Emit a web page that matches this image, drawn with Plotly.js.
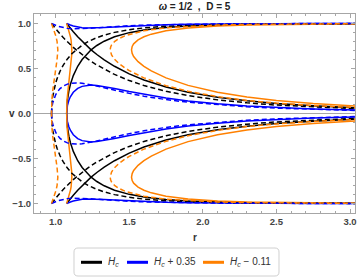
<!DOCTYPE html>
<html><head><meta charset="utf-8">
<script src="https://cdn.plot.ly/plotly-3.0.1.min.js"></script>
<style>html,body{margin:0;padding:0;background:#fff;}#chart{width:357px;height:278px;}</style>
</head><body><div id="chart"></div>
<script>
// ---- solid family (r grid and v branches) ----
const rS = [1.075, 1.076, 1.078, 1.08, 1.09, 1.10, 1.12, 1.15, 1.18, 1.21, 1.241, 1.28, 1.33, 1.40, 1.50, 1.60, 1.75, 1.90, 2.10, 2.30, 2.50, 2.75, 3.04];
const sBlackA = [1, .9978, .9934, .9891, .9676, .9468, .9070, .8513, .8000, .7530, .7071, .6553, .5962, .5244, .4401, .3726, .2947, .2366, .1804, .1404, .1112, .0849, .0638];
const sBlackB = [0, .0663, .1145, .1475, .2523, .3217, .4212, .5247, .6000, .6581, .7071, .7553, .8028, .8515, .8979, .9280, .9556, .9716, .9836, .9901, .9938, .9964, .9980];
const sBlueUp = [1, .9992, .9977, .9962, .9890, .9826, .9719, .9605, .9535, .9500, .9489, .9501, .9538, .9605, .9698, .9773, .9853, .9903, .9943, .9965, .9978, .9987, .9993];
const sBlueLow = [0, .0396, .0683, .0877, .1478, .1856, .2354, .2785, .3014, .3123, .3155, .3120, .3005, .2784, .2440, .2119, .1711, .1390, .1070, .0835, .0663, .0507, .0381];
const sBlackA_low = [-1, -.9978, -.9934, -.9891, -.9676, -.9468, -.9070, -.8513, -.8000, -.7530, -.7071, -.6553, -.5962, -.5244, -.4401, -.3726, -.2947, -.2366, -.1804, -.1404, -.1112, -.0849, -.0638];
const sBlackB_low = [0, -.0663, -.1145, -.1475, -.2523, -.3217, -.4212, -.5247, -.6000, -.6581, -.7071, -.7553, -.8028, -.8515, -.8979, -.9280, -.9556, -.9716, -.9836, -.9901, -.9938, -.9964, -.9980];
const sBlueUp_low = [-1, -.9992, -.9977, -.9962, -.9890, -.9826, -.9719, -.9605, -.9535, -.9500, -.9489, -.9501, -.9538, -.9605, -.9698, -.9773, -.9853, -.9903, -.9943, -.9965, -.9978, -.9987, -.9993];
const sBlueLow_low = [0, -.0396, -.0683, -.0877, -.1478, -.1856, -.2354, -.2785, -.3014, -.3123, -.3155, -.3120, -.3005, -.2784, -.2440, -.2119, -.1711, -.1390, -.1070, -.0835, -.0663, -.0507, -.0381];
const sOrLeftR = [1.075, 1.0773, 1.0788, 1.0825, 1.0863, 1.0938, 1.1013, 1.105, 1.1088, 1.1101, 1.1088, 1.105, 1.1013, 1.0938, 1.0863, 1.0825, 1.0788, 1.0773, 1.075];
const sOrLeftV = [1, .9889, .9814, .9623, .9425, .8996, .8480, .8148, .7646, .7071, .6445, .5798, .5300, .4368, .3342, .2719, .1918, .1484, 0];
const sOrLeftV_low = [-1, -.9889, -.9814, -.9623, -.9425, -.8996, -.8480, -.8148, -.7646, -.7071, -.6445, -.5798, -.5300, -.4368, -.3342, -.2719, -.1918, -.1484, 0];
const sOrCR = [3.04, 2.75, 2.50, 2.30, 2.10, 1.90, 1.75, 1.65, 1.60, 1.56, 1.53, 1.52, 1.5156, 1.52, 1.53, 1.56, 1.60, 1.65, 1.75, 1.90, 2.10, 2.30, 2.50, 2.75, 3.04];
const sOrCV = [.9966, .9940, .9896, .9832, .9719, .9500, .9185, .8812, .8520, .8173, .7738, .7448, .7071, .6673, .6334, .5762, .5236, .4728, .3955, .3122, .2355, .1823, .1441, .1098, .0824];
const sOrCV_low = [-.9966, -.9940, -.9896, -.9832, -.9719, -.9500, -.9185, -.8812, -.8520, -.8173, -.7738, -.7448, -.7071, -.6673, -.6334, -.5762, -.5236, -.4728, -.3955, -.3122, -.2355, -.1823, -.1441, -.1098, -.0824];

// ---- dashed family ----
const rD = [0.972, 0.973, 0.975, 0.98, 0.99, 1.00, 1.01, 1.02, 1.03, 1.05, 1.08, 1.11, 1.14, 1.18, 1.22, 1.27, 1.33, 1.40, 1.50, 1.60, 1.75, 1.90, 2.10, 2.30, 2.50, 2.75, 3.04];
const dBlackA = [1, .9978, .9935, .9827, .9616, .9411, .9211, .9017, .8828, .8464, .7954, .7480, .7071, .6512, .6029, .5485, .4914, .4339, .3657, .3107, .2465, .1983, .1514, .1180, .0935, .0715, .0537];
const dBlackB = [0, .0660, .1140, .1851, .2744, .3382, .3893, .4324, .4698, .5326, .6061, .6637, .7071, .7589, .7978, .8361, .8710, .9010, .9307, .9505, .9692, .9801, .9885, .9930, .9956, .9974, .9986];
const dBlueUp = [1, .9991, .9974, .9930, .9852, .9781, .9718, .9661, .9612, .9532, .9453, .9414, .9404, .9421, .9456, .9513, .9584, .9659, .9748, .9813, .9880, .9921, .9954, .9972, .9982, .9990, .9994];
const dBlueLow = [0, .0421, .0726, .1178, .1713, .2081, .2360, .2581, .2760, .3024, .3261, .3372, .3400, .3355, .3253, .3083, .2856, .2588, .2233, .1925, .1546, .1253, .0962, .0751, .0596, .0457, .0343];
const dBlackA_low = [-1, -.9978, -.9935, -.9827, -.9616, -.9411, -.9211, -.9017, -.8828, -.8464, -.7954, -.7480, -.7071, -.6512, -.6029, -.5485, -.4914, -.4339, -.3657, -.3107, -.2465, -.1983, -.1514, -.1180, -.0935, -.0715, -.0537];
const dBlackB_low = [0, -.0660, -.1140, -.1851, -.2744, -.3382, -.3893, -.4324, -.4698, -.5326, -.6061, -.6637, -.7071, -.7589, -.7978, -.8361, -.8710, -.9010, -.9307, -.9505, -.9692, -.9801, -.9885, -.9930, -.9956, -.9974, -.9986];
const dBlueUp_low = [-1, -.9991, -.9974, -.9930, -.9852, -.9781, -.9718, -.9661, -.9612, -.9532, -.9453, -.9414, -.9404, -.9421, -.9456, -.9513, -.9584, -.9659, -.9748, -.9813, -.9880, -.9921, -.9954, -.9972, -.9982, -.9990, -.9994];
const dBlueLow_low = [0, -.0421, -.0726, -.1178, -.1713, -.2081, -.2360, -.2581, -.2760, -.3024, -.3261, -.3372, -.3400, -.3355, -.3253, -.3083, -.2856, -.2588, -.2233, -.1925, -.1546, -.1253, -.0962, -.0751, -.0596, -.0457, -.0343];
const dOrLeftR = [.972, .9728, .9744, .9783, .9862, .9940, 1.0019, 1.0097, 1.015, 1.0097, 1.0019, .9940, .9862, .9783, .9744, .9728, .972];
const dOrLeftV = [1, .9967, .9901, .9732, .9383, .9006, .8576, .8009, .7071, .5988, .5143, .4347, .3460, .2299, .1407, .0811, 0];
const dOrLeftV_low = [-1, -.9967, -.9901, -.9732, -.9383, -.9006, -.8576, -.8009, -.7071, -.5988, -.5143, -.4347, -.3460, -.2299, -.1407, -.0811, 0];
const dOrCR = [3.04, 2.75, 2.50, 2.30, 2.10, 1.90, 1.75, 1.60, 1.50, 1.47, 1.43, 1.40, 1.38, 1.374, 1.3705, 1.374, 1.38, 1.40, 1.43, 1.47, 1.50, 1.60, 1.75, 1.90, 2.10, 2.30, 2.50, 2.75, 3.04];
const dOrCV = [.9978, .9961, .9933, .9893, .9823, .9691, .9511, .9185, .8794, .8623, .8319, .7983, .7607, .7401, .7071, .6725, .6492, .6023, .5549, .5065, .4761, .3955, .3089, .2467, .1874, .1457, .1153, .0880, .0661];
const dOrCV_low = [-.9978, -.9961, -.9933, -.9893, -.9823, -.9691, -.9511, -.9185, -.8794, -.8623, -.8319, -.7983, -.7607, -.7401, -.7071, -.6725, -.6492, -.6023, -.5549, -.5065, -.4761, -.3955, -.3089, -.2467, -.1874, -.1457, -.1153, -.0880, -.0661];

// ---- text ----
const legendLabels = ['<i>H</i><sub><i>c</i></sub>', '<i>H</i><sub><i>c</i></sub> + 0.35', '<i>H</i><sub><i>c</i></sub> \u2212 0.11'];
const titleText = '<b><i>\u03c9</i> = 1/2 \u00a0,\u00a0 D = 5</b>';

const BLACK = '#000000', BLUE = '#0000ff', ORANGE = '#ff8000';
const LW = 1.5, DASH = '5px,3px';
function tr(x, y, color, dashed) {
  return {x: x, y: y, type: 'scatter', mode: 'lines', hoverinfo: 'skip', showlegend: false,
    line: {color: color, width: LW, dash: dashed ? DASH : 'solid'}};
}
const data = [
  tr(rS, sBlackA, BLACK), tr(rS, sBlackA_low, BLACK), tr(rS, sBlackB, BLACK), tr(rS, sBlackB_low, BLACK),
  tr(rS, sBlueUp, BLUE), tr(rS, sBlueUp_low, BLUE), tr(rS, sBlueLow, BLUE), tr(rS, sBlueLow_low, BLUE),
  tr(sOrLeftR, sOrLeftV, ORANGE), tr(sOrLeftR, sOrLeftV_low, ORANGE), tr(sOrCR, sOrCV, ORANGE), tr(sOrCR, sOrCV_low, ORANGE),
  tr(rD, dBlackA, BLACK, 1), tr(rD, dBlackA_low, BLACK, 1), tr(rD, dBlackB, BLACK, 1), tr(rD, dBlackB_low, BLACK, 1),
  tr(rD, dBlueUp, BLUE, 1), tr(rD, dBlueUp_low, BLUE, 1), tr(rD, dBlueLow, BLUE, 1), tr(rD, dBlueLow_low, BLUE, 1),
  tr(dOrLeftR, dOrLeftV, ORANGE, 1), tr(dOrLeftR, dOrLeftV_low, ORANGE, 1), tr(dOrCR, dOrCV, ORANGE, 1), tr(dOrCR, dOrCV_low, ORANGE, 1)
];

const FONT = 'Liberation Sans, Arial, sans-serif';
const FRAME = '#a6a6a6';
const axisCommon = {
  showgrid: false, showline: true, linecolor: FRAME, linewidth: 1, mirror: 'ticks',
  ticks: 'inside', ticklen: 4, tickcolor: FRAME, tickwidth: 1,
  tickfont: {family: FONT, size: 9.5, color: '#444', weight: 'bold'}, tickformat: '.1f',
  minor: {dtick: 0.1, ticks: 'inside', ticklen: 2, tickcolor: FRAME, tickwidth: 1, showgrid: false}
};

// legend geometry in paper units
const L = {x0: 0.1246, x1: 0.7632, y0: -0.3166, y1: -0.1759, rx: 0.0125, ry: 0.0201, ly: -0.2477};
const boxPath = `M ${L.x0+L.rx},${L.y1} L ${L.x1-L.rx},${L.y1} Q ${L.x1},${L.y1} ${L.x1},${L.y1-L.ry} L ${L.x1},${L.y0+L.ry} Q ${L.x1},${L.y0} ${L.x1-L.rx},${L.y0} L ${L.x0+L.rx},${L.y0} Q ${L.x0},${L.y0} ${L.x0},${L.y0+L.ry} L ${L.x0},${L.y1-L.ry} Q ${L.x0},${L.y1} ${L.x0+L.rx},${L.y1} Z`;
const legSeg = [[0.1464, 0.2118, BLACK], [0.2897, 0.3551, BLUE], [0.5265, 0.5919, ORANGE]];
const legTextX = [0.2243, 0.3676, 0.6044];

const shapes = [{type: 'path', xref: 'paper', yref: 'paper', path: boxPath, line: {color: '#d0d0d0', width: 1}, fillcolor: 'rgba(255,255,255,1)'}];
legSeg.forEach(s => shapes.push({type: 'line', xref: 'paper', yref: 'paper', x0: s[0], x1: s[1], y0: L.ly, y1: L.ly, line: {color: s[2], width: 3}}));

const annotations = legendLabels.map((t, i) => ({xref: 'paper', yref: 'paper', x: legTextX[i], y: L.ly, xanchor: 'left', yanchor: 'middle',
  text: t, showarrow: false, font: {family: FONT, size: 10, color: '#333'}}));
annotations.push({xref: 'paper', yref: 'paper', x: -0.067, y: 0.499, text: '<b>v</b>', showarrow: false, xanchor: 'center', yanchor: 'middle', font: {family: FONT, size: 10, color: '#333'}});
annotations.push({xref: 'paper', yref: 'paper', x: 0.5016, y: -0.1256, text: '<b>r</b>', showarrow: false, xanchor: 'center', yanchor: 'middle', font: {family: FONT, size: 10, color: '#333'}});

const layout = {
  width: 357, height: 278, margin: {l: 34, r: 2, t: 14, b: 65},
  paper_bgcolor: '#fff', plot_bgcolor: '#fff', showlegend: false,
  title: {text: titleText, font: {family: FONT, size: 10, color: '#222'}, x: 0.5, xref: 'paper', xanchor: 'center', y: 0.978, yref: 'container', yanchor: 'middle'},
  xaxis: Object.assign({}, axisCommon, {range: [0.853, 3.034], tick0: 1, dtick: 0.5, zeroline: false}),
  yaxis: Object.assign({}, axisCommon, {range: [-1.105, 1.105], tick0: 0, dtick: 0.5, zeroline: true, zerolinecolor: FRAME, zerolinewidth: 1}),
  shapes: shapes, annotations: annotations
};
Plotly.newPlot('chart', data, layout, {staticPlot: true, displayModeBar: false});
</script></body></html>
